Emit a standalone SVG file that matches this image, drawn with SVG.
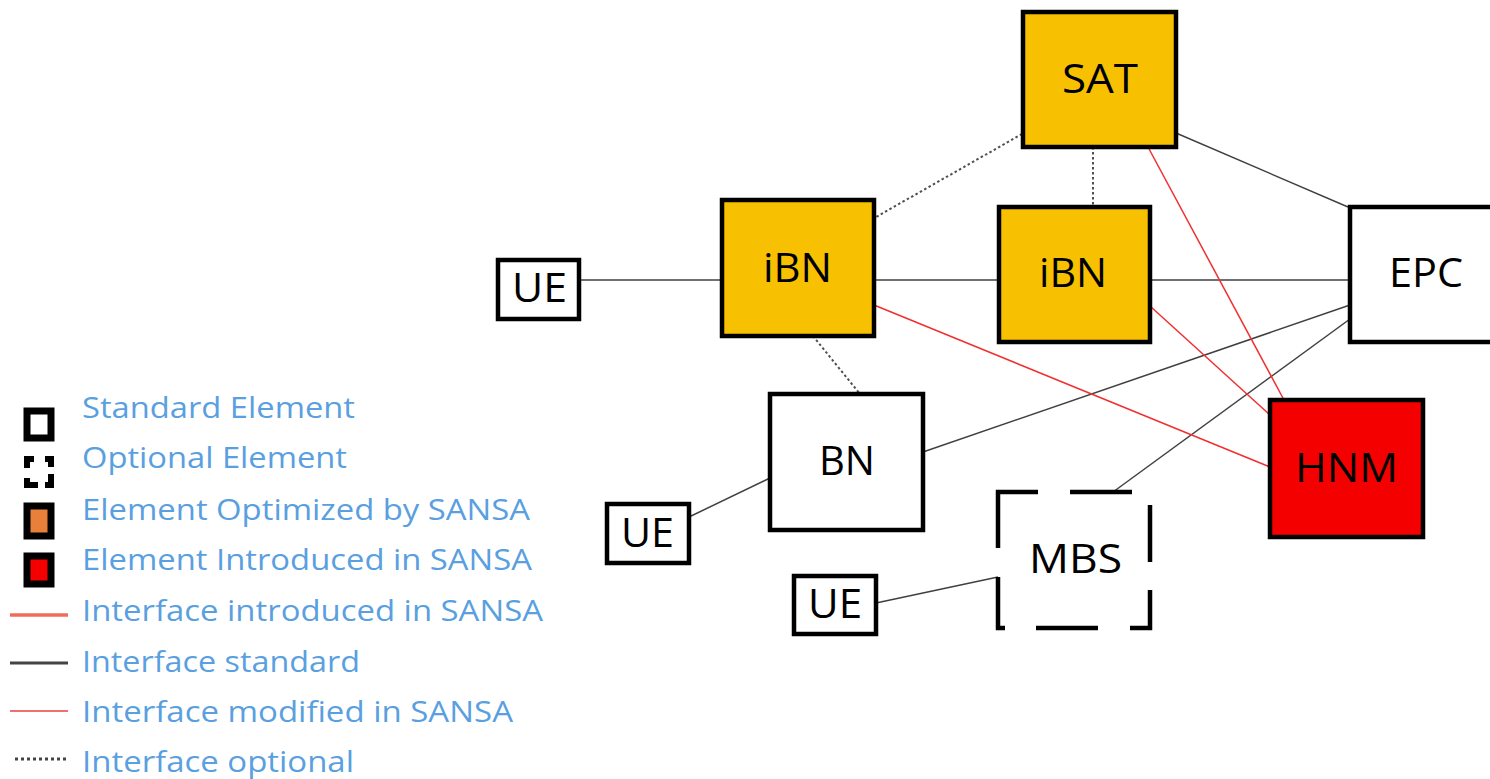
<svg xmlns="http://www.w3.org/2000/svg" width="1490" height="779" viewBox="0 0 1490 779">
  <style>
    .box { stroke: #000; stroke-width: 4.5; }
    .std { fill: #fff; }
    .opt { fill: #f7c000; }
    .new { fill: #f50000; }
    .lbl { font-family: "Open Sans", "Liberation Sans", sans-serif; font-size: 40px; fill: #000; text-anchor: middle; }
    .leg { font-family: "Open Sans", "Liberation Sans", sans-serif; font-size: 30px; fill: #5a9fe0; }
    .std-if { stroke: #404040; stroke-width: 1.5; fill: none; }
    .red-if { stroke: #f03030; stroke-width: 1.5; fill: none; }
    .dot-if { stroke: #505050; stroke-width: 2; stroke-dasharray: 2.5 2.5; fill: none; }
  </style>

  <!-- connectors -->
  <g id="connectors">
    <line class="std-if" x1="579" y1="280" x2="722" y2="280"/>
    <line class="std-if" x1="874" y1="280" x2="999" y2="280"/>
    <line class="std-if" x1="1150" y1="280" x2="1350" y2="280"/>
    <line class="std-if" x1="1176" y1="133" x2="1348" y2="207"/>
    <line class="std-if" x1="923" y1="452" x2="1350" y2="305"/>
    <line class="std-if" x1="1113" y1="492" x2="1350" y2="319"/>
    <line class="std-if" x1="689" y1="517" x2="770" y2="478"/>
    <line class="std-if" x1="876" y1="603" x2="998" y2="577"/>
    <line class="dot-if" x1="1022" y1="134" x2="876" y2="217"/>
    <line class="dot-if" x1="1093" y1="147" x2="1093" y2="207"/>
    <line class="dot-if" x1="813" y1="336" x2="860" y2="394"/>
    <line class="red-if" x1="1148" y1="147" x2="1284" y2="400"/>
    <line class="red-if" x1="1150" y1="306" x2="1270" y2="415"/>
    <line class="red-if" x1="874" y1="305" x2="1270" y2="467"/>
  </g>

  <!-- nodes -->
  <g id="sat">
    <rect class="box opt" x="1023" y="12" width="153" height="135"/>
    <text class="lbl" x="1100" y="93" textLength="76" lengthAdjust="spacingAndGlyphs">SAT</text>
  </g>
  <g id="ibn1">
    <rect class="box opt" x="722" y="200" width="152" height="136"/>
    <text class="lbl" x="797.5" y="282" textLength="69" lengthAdjust="spacingAndGlyphs">iBN</text>
  </g>
  <g id="ibn2">
    <rect class="box opt" x="999" y="207" width="151" height="135"/>
    <text class="lbl" x="1073" y="287" textLength="68" lengthAdjust="spacingAndGlyphs">iBN</text>
  </g>
  <g id="epc">
    <rect class="box std" x="1350" y="207" width="145" height="135"/>
    <text class="lbl" x="1426" y="287" textLength="74" lengthAdjust="spacingAndGlyphs">EPC</text>
  </g>
  <g id="bn">
    <rect class="box std" x="770" y="394" width="153" height="136"/>
    <text class="lbl" x="847" y="475" textLength="56" lengthAdjust="spacingAndGlyphs">BN</text>
  </g>
  <g id="hnm">
    <rect class="box new" x="1270" y="400" width="153" height="137"/>
    <text class="lbl" x="1346.5" y="482" textLength="103" lengthAdjust="spacingAndGlyphs">HNM</text>
  </g>
  <g id="mbs">
    <rect x="998" y="492" width="152" height="136" fill="#fff"/>
    <path d="M998,548 V492 H1038 M1070,492 H1132 M1150,505 V562 M1150,590 V628 H1130 M1098,628 H1036 M1005,628 H998 V577" stroke="#000" stroke-width="4.5" fill="none"/>
    <text class="lbl" x="1075.5" y="573" textLength="93" lengthAdjust="spacingAndGlyphs">MBS</text>
  </g>
  <g id="ue1">
    <rect class="box std" x="498" y="260" width="81" height="59"/>
    <text class="lbl" x="539.5" y="302" textLength="55" lengthAdjust="spacingAndGlyphs">UE</text>
  </g>
  <g id="ue2">
    <rect class="box std" x="607" y="504" width="82" height="59"/>
    <text class="lbl" x="647.5" y="547" textLength="53" lengthAdjust="spacingAndGlyphs">UE</text>
  </g>
  <g id="ue3">
    <rect class="box std" x="794" y="576" width="82" height="58"/>
    <text class="lbl" x="835" y="618" textLength="54" lengthAdjust="spacingAndGlyphs">UE</text>
  </g>

  <!-- legend -->
  <g id="legend">
    <rect x="27" y="411" width="24" height="27" fill="#fff" stroke="#000" stroke-width="7"/>
    <path d="M27,468 V459 H34 M45,459 H51 V467 M51,474 V485 H45 M38,485 H27 V478" fill="none" stroke="#000" stroke-width="6"/>
    <rect x="27" y="506" width="24" height="30" fill="#e8803a" stroke="#000" stroke-width="7"/>
    <rect x="27" y="556" width="24" height="28" fill="#f50000" stroke="#000" stroke-width="7"/>
    <line x1="10" y1="615" x2="68" y2="615" stroke="#f26b5a" stroke-width="3.5"/>
    <line x1="10" y1="663" x2="68" y2="663" stroke="#444" stroke-width="3"/>
    <line x1="10" y1="711" x2="68" y2="711" stroke="#f07070" stroke-width="2"/>
    <line x1="15" y1="759" x2="68" y2="759" stroke="#444" stroke-width="3" stroke-dasharray="3 3"/>
    <text class="leg" x="82" y="418" textLength="273" lengthAdjust="spacingAndGlyphs">Standard Element</text>
    <text class="leg" x="82" y="468" textLength="265" lengthAdjust="spacingAndGlyphs">Optional Element</text>
    <text class="leg" x="82" y="520" textLength="448" lengthAdjust="spacingAndGlyphs">Element Optimized by SANSA</text>
    <text class="leg" x="82" y="570" textLength="450" lengthAdjust="spacingAndGlyphs">Element Introduced in SANSA</text>
    <text class="leg" x="82" y="621" textLength="461" lengthAdjust="spacingAndGlyphs">Interface introduced in SANSA</text>
    <text class="leg" x="82" y="672" textLength="278" lengthAdjust="spacingAndGlyphs">Interface standard</text>
    <text class="leg" x="82" y="722" textLength="431" lengthAdjust="spacingAndGlyphs">Interface modified in SANSA</text>
    <text class="leg" x="82" y="772" textLength="272" lengthAdjust="spacingAndGlyphs">Interface optional</text>
  </g>
</svg>
